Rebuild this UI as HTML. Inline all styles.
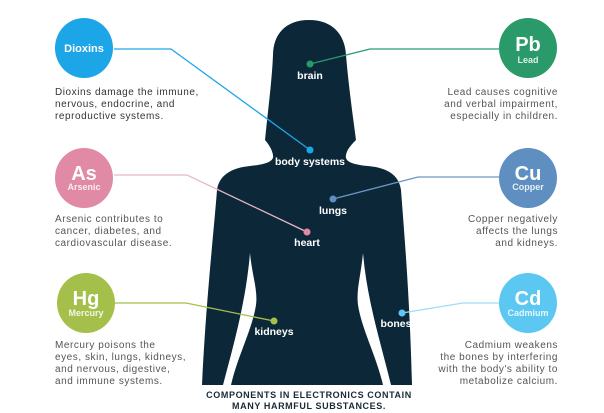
<!DOCTYPE html>
<html><head><meta charset="utf-8"><style>
html,body{margin:0;padding:0;background:#fff;width:604px;height:413px;overflow:hidden}
svg{display:block}
text{font-family:"Liberation Sans",sans-serif}
.p{font-size:10px;fill:#555;letter-spacing:0.55px}
.lb{font-size:10.5px;fill:#fff;font-weight:bold;text-anchor:middle}
.sym{font-size:20px;fill:#fff;font-weight:bold;text-anchor:middle}
.nm{font-size:9px;fill:#fff;font-weight:bold;text-anchor:middle;opacity:.85}
</style></head><body>
<svg width="604" height="413" viewBox="0 0 604 413">
<path fill="#0c2838" d="M309,20 C285,20 273,35 273,55 C272,80 268,110 265,140 C270,146 272,150 273,155 C274,160 270,164 250,166 C230,168 219,176 217,190 C214,230 206,300 202,385 L412,385 C410,300 404,230 401,190 C399,176 389,168 368,166 C348,164 345,160 346,155 C347,150 350,146 356,140 C352,110 348,80 346,55 C345,35 333,20 309,20 Z"/>
<path fill="#fff" d="M250,253 C252,275 258,290 256,305 C252,330 238,355 231,385 L223,385 C235,340 246,300 250,253 Z"/>
<path fill="#fff" d="M363,253 C361,275 356,290 358,305 C362,330 376,355 383,385 L391,385 C380,340 367,300 363,253 Z"/>

<g fill="none" stroke-width="1.3">
<polyline stroke="#1ca6e8" points="114,49 171,49 310,150"/>
<polyline stroke="#2a9a6a" points="499,49 370,49 310,64"/>
<polyline stroke="#e8b8c8" points="114,175 187,175 307,232"/>
<polyline stroke="#6b96c4" points="499,177 418,177 333,199"/>
<polyline stroke="#a5c04a" points="114,303 186,303 274,321"/>
<polyline stroke="#9fdcf5" points="499,303 463,303 402,313"/>
</g>
<circle cx="310" cy="150" r="3.5" fill="#1ca6e8"/>
<circle cx="310" cy="64" r="3.5" fill="#2a9a6a"/>
<circle cx="307" cy="232" r="3.5" fill="#e08aa5"/>
<circle cx="333" cy="199" r="3.5" fill="#5e8fc0"/>
<circle cx="274" cy="321" r="3.5" fill="#a5c04a"/>
<circle cx="402" cy="313" r="3.5" fill="#5cc8f2"/>

<text class="lb" x="310" y="79">brain</text>
<text class="lb" x="310" y="165">body systems</text>
<text class="lb" x="333" y="214">lungs</text>
<text class="lb" x="307" y="246">heart</text>
<text class="lb" x="274" y="335">kidneys</text>
<text class="lb" x="396" y="327">bones</text>

<g>
<ellipse cx="84" cy="48" rx="29" ry="30" fill="#1ca6e8"/>
<text class="lb" x="84" y="52" style="font-size:11px">Dioxins</text></g>
<g>
<ellipse cx="528" cy="48" rx="29" ry="30" fill="#2a9a6a"/>
<text class="sym" x="528" y="51">Pb</text><text class="nm" x="528" y="63">Lead</text></g>
<g>
<ellipse cx="84" cy="178" rx="29" ry="30" fill="#e08aa5"/>
<text class="sym" x="84" y="180">As</text><text class="nm" x="84" y="190">Arsenic</text></g>
<g>
<ellipse cx="528" cy="178" rx="29" ry="30" fill="#5e8fc0"/>
<text class="sym" x="528" y="180">Cu</text><text class="nm" x="528" y="190">Copper</text></g>
<g>
<ellipse cx="86" cy="303" rx="29" ry="30" fill="#a5c04a"/>
<text class="sym" x="86" y="305">Hg</text><text class="nm" x="86" y="316">Mercury</text></g>
<g>
<ellipse cx="528" cy="303" rx="29" ry="30" fill="#5cc8f2"/>
<text class="sym" x="528" y="305">Cd</text><text class="nm" x="528" y="316">Cadmium</text></g>

<text class="p" style="fill:#333"><tspan x="55" y="95">Dioxins damage the immune,</tspan><tspan x="55" y="107">nervous, endocrine, and</tspan><tspan x="55" y="119">reproductive systems.</tspan></text>
<text class="p" text-anchor="end"><tspan x="558" y="95">Lead causes cognitive</tspan><tspan x="558" y="107">and verbal impairment,</tspan><tspan x="558" y="119">especially in children.</tspan></text>
<text class="p"><tspan x="55" y="222">Arsenic contributes to</tspan><tspan x="55" y="234">cancer, diabetes, and</tspan><tspan x="55" y="246">cardiovascular disease.</tspan></text>
<text class="p" text-anchor="end"><tspan x="558" y="222">Copper negatively</tspan><tspan x="558" y="234">affects the lungs</tspan><tspan x="558" y="246">and kidneys.</tspan></text>
<text class="p"><tspan x="55" y="348">Mercury poisons the</tspan><tspan x="55" y="360">eyes, skin, lungs, kidneys,</tspan><tspan x="55" y="372">and nervous, digestive,</tspan><tspan x="55" y="384">and immune systems.</tspan></text>
<text class="p" text-anchor="end"><tspan x="558" y="348">Cadmium weakens</tspan><tspan x="558" y="360">the bones by interfering</tspan><tspan x="558" y="372">with the body's ability to</tspan><tspan x="558" y="384">metabolize calcium.</tspan></text>

<text text-anchor="middle" style="font-size:9px;font-weight:bold;fill:#1a2a35;letter-spacing:0.6px"><tspan x="309" y="398">COMPONENTS IN ELECTRONICS CONTAIN</tspan><tspan x="309" y="409">MANY HARMFUL SUBSTANCES.</tspan></text>
</svg>
</body></html>
